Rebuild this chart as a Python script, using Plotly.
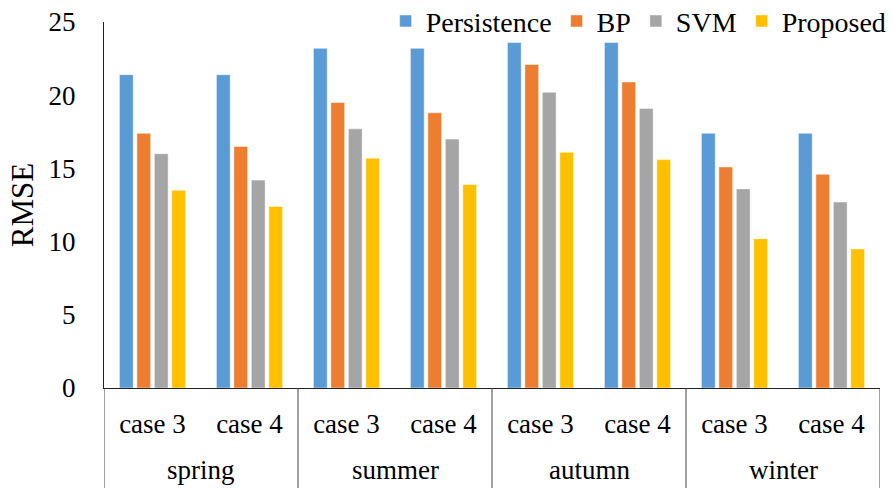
import plotly.graph_objects as go

seasons = ["spring", "spring", "summer", "summer", "autumn", "autumn", "winter", "winter"]
cases = ["case 3", "case 4"] * 4

persistence = [21.4, 21.4, 23.2, 23.2, 23.6, 23.6, 17.4, 17.4]
bp = [17.4, 16.5, 19.5, 18.8, 22.1, 20.9, 15.1, 14.6]
svm = [16.0, 14.2, 17.7, 17.0, 20.2, 19.1, 13.6, 12.7]
proposed = [13.5, 12.4, 15.7, 13.9, 16.1, 15.6, 10.2, 9.5]

series_names = ["Persistence", "BP", "SVM", "Proposed"]
series_values = [persistence, bp, svm, proposed]
colors = ["#5B9BD5", "#ED7D31", "#A5A5A5", "#FFC000"]

font_family = "Liberation Serif, Times New Roman, serif"

xpos = list(range(len(cases)))

fig = go.Figure()
for name, vals, c in zip(series_names, series_values, colors):
    fig.add_trace(go.Bar(
        x=xpos, y=vals, name=name,
        marker=dict(color=c, line=dict(color="rgba(255,255,255,0.6)", width=0.8)),
    ))

# outer-level (season) groups: labels and divider lines
groups = []
for i, s in enumerate(seasons):
    if not groups or groups[-1][0] != s:
        groups.append([s, i, i])
    else:
        groups[-1][2] = i

annotations = []
shapes = []
for s, i0, i1 in groups:
    annotations.append(dict(x=(i0 + i1) / 2, y=-0.224, xref="x", yref="paper",
                            text=s, showarrow=False, yanchor="middle",
                            font=dict(size=27, family=font_family, color="#000")))
    shapes.append(dict(type="line", xref="x", yref="paper", x0=i0 - 0.5, x1=i0 - 0.5,
                       y0=0, y1=-0.3, line=dict(color="#444", width=1)))
shapes.append(dict(type="line", xref="x", yref="paper", x0=groups[-1][2] + 0.5,
                   x1=groups[-1][2] + 0.5, y0=0, y1=-0.3, line=dict(color="#444", width=1)))

fig.update_layout(
    width=894, height=488,
    margin=dict(l=104, r=14, t=22, b=100, autoexpand=False),
    paper_bgcolor="white", plot_bgcolor="white",
    barmode="group", bargap=0.28, bargroupgap=0.21,
    font=dict(family=font_family, size=27, color="#000"),
    legend=dict(orientation="h", x=1.015, xanchor="right", y=1.002, yanchor="middle",
                font=dict(size=28), bgcolor="rgba(255,255,255,0)",
                itemwidth=30, tracegroupgap=0),
    showlegend=True,
    annotations=annotations,
    shapes=shapes,
)
fig.update_yaxes(range=[0, 25], dtick=5, showgrid=False, zeroline=False,
                 showline=True, linecolor="#222", linewidth=1,
                 ticks="outside", ticklen=22, tickcolor="rgba(0,0,0,0)",
                 title=dict(text="RMSE", font=dict(size=31), standoff=5),
                 tickfont=dict(size=27))
fig.update_xaxes(range=[-0.5, len(cases) - 0.5], tickmode="array",
                 tickvals=xpos, ticktext=cases,
                 showline=True, linecolor="#222", linewidth=1, showgrid=False,
                 zeroline=False,
                 ticks="outside", ticklen=12, tickcolor="rgba(0,0,0,0)",
                 tickfont=dict(size=27))

fig.write_html("out.html")
